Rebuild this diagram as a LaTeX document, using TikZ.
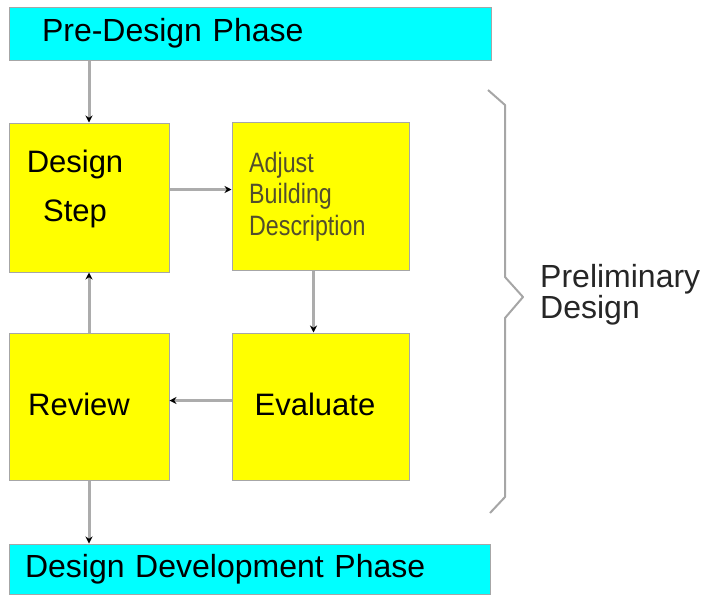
\documentclass[tikz,border=0pt]{standalone}
\usepackage{fontspec}
\setmainfont{Liberation Sans}
\newfontfamily\narrowsans[FakeStretch=0.83]{Liberation Sans}
\usetikzlibrary{arrows.meta}

\definecolor{phasecyan}{RGB}{0,255,255}
\definecolor{stepyellow}{RGB}{255,255,0}

\tikzset{
  phase/.style={draw=gray!70, fill=phasecyan, line width=1pt, align=left,
    font=\fontsize{32}{38}\selectfont},
  stepbox/.style={draw=gray!70, fill=stepyellow, line width=1pt, inner sep=0pt},
  steptext/.style={inner sep=0pt, align=center, font=\fontsize{31}{49}\selectfont},
  flow/.style={draw=gray!65, line width=3pt, -{Stealth[black, length=7pt, width=7pt]}},
}

\begin{document}
\begin{tikzpicture}[x=1pt, y=-1pt]
    \useasboundingbox (0,0) rectangle (708,595);

    % Phases before and after
    \node[phase, minimum height=53pt, text width=416pt, inner xsep=33pt] (pre) at (250,33.5) {Pre-Design Phase};
    \node[phase, minimum height=50pt, text width=449pt, inner xsep=16pt] (devel) at (249.5,569) {Design Development Phase};

    % The four steps of the loop
    \node[stepbox, minimum width=160pt, minimum height=149pt] (dstep) at (89,197.5) {};
    \node[stepbox, minimum width=177pt, minimum height=148pt] (adjust) at (320.5,196) {};
    \node[stepbox, minimum width=160pt, minimum height=147pt] (review) at (89,406.5) {};
    \node[stepbox, minimum width=177pt, minimum height=147pt] (evaluate) at (320.5,406.5) {};

    % (base sits on the last line)
    \node[steptext, anchor=base] (dstep-t) at (75,221) {Design\\Step};
    \node[inner sep=0pt, anchor=base west, align=left, text=olive!45!black,
      font=\narrowsans\fontsize{28}{31.5}\selectfont] (adjust-t) at (249,235) {Adjust\\Building\\Description};
    \node[steptext, anchor=base] (review-t) at (79,415) {Review};
    \node[steptext, anchor=base] (evaluate-t) at (315,415) {Evaluate};

    % Arrows
    \draw[flow] (pre.south -| dstep.north) -- (dstep.north);
    \draw[flow] ([yshift=8pt]dstep.east) -- ([yshift=8pt]dstep.east -| adjust.west);
    \draw[flow] ([xshift=-7pt]adjust.south) -- ([xshift=-7pt]adjust.south |- evaluate.north);
    \draw[flow] ([yshift=6pt]evaluate.west) -- ([yshift=6pt]evaluate.west -| review.east);
    \draw[flow] (review.north) -- (dstep.south);
    \draw[flow] (review.south) -- (review.south |- devel.north);

    % Brace
    \draw[gray!70, line width=2pt, line join=round]
      (488,90) -- (505,105) -- (505,277) -- (523,297) -- (505,318) -- (505,497) -- (490,513);
    \node[inner sep=0pt, anchor=base west, align=left, text=black!85,
      font=\fontsize{32}{31}\selectfont] (prelim) at (540,318) {Preliminary\\Design};
\end{tikzpicture}
\end{document}
